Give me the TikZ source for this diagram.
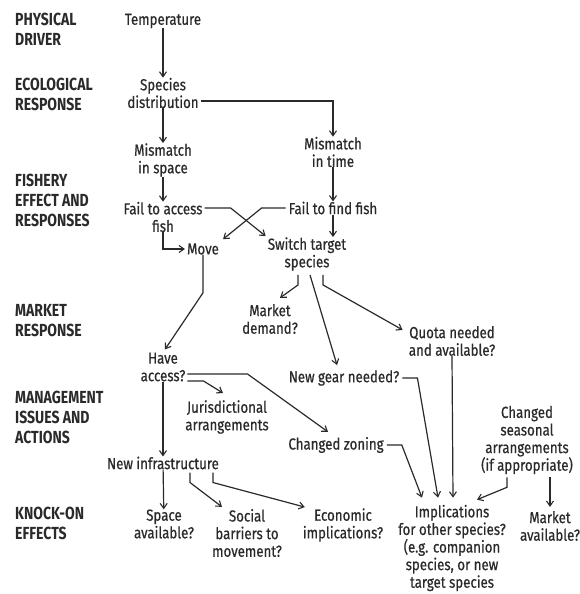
\documentclass[tikz,border=0pt]{standalone}
\usepackage{fontspec}
\setmainfont{Fira Sans}[FakeStretch=0.83,FakeBold=0.6]
\newfontfamily\headfont{Fira Sans}[FakeStretch=0.8]
\usetikzlibrary{arrows.meta,calc}
\definecolor{ink}{HTML}{2A2A2A}
\tikzset{
  box/.style={inner sep=0pt, align=center, text=ink,
    font=\fontsize{16}{17.6}\selectfont},
  stage/.style={inner sep=0pt, align=left, anchor=west, text=ink,
    font=\headfont\bfseries\fontsize{17.5}{20}\selectfont},
  link/.style={draw=ink, line width=1.2pt,
    -{Straight Barb[length=5pt,width=7pt,line width=1.1pt]}},
}
\begin{document}
\begin{tikzpicture}[x=1pt,y=-1pt]
\useasboundingbox (0,0) rectangle (580,594);

% stage labels on the left
\node[stage] (lphys) at (15,29)  {PHYSICAL\\DRIVER};
\node[stage] (leco)  at (15,94)  {ECOLOGICAL\\RESPONSE};
\node[stage] (lfish) at (15,200) {FISHERY\\EFFECT AND\\RESPONSES};
\node[stage] (lmkt)  at (15,321) {MARKET\\RESPONSE};
\node[stage] (lmgmt) at (15,417) {MANAGEMENT\\ISSUES AND\\ACTIONS};
\node[stage] (lknock) at (15,523) {KNOCK-ON\\EFFECTS};

% flow nodes
\node[box] (temp)     at (163,21)  {Temperature};
\node[box] (species)  at (163,93)  {Species\\distribution};
\node[box] (mspace)   at (163,160) {Mismatch\\in space};
\node[box] (mtime)    at (333,152) {Mismatch\\in time};
\node[box] (faccess)  at (163,217) {Fail to access\\fish};
\node[box] (ffind)    at (333,208) {Fail to find fish};
\node[box] (move)     at (203,249) {Move};
\node[box] (switch)   at (307,254) {Switch target\\species};
\node[box] (mdemand)  at (270,319) {Market\\demand?};
\node[box] (quota)    at (452,341) {Quota needed\\and available?};
\node[box] (newgear)  at (344,378) {New gear needed?};
\node[box] (access)   at (163,367) {Have\\access?};
\node[box] (juris)    at (227,417) {Jurisdictional\\arrangements};
\node[box] (zoning)   at (336,445) {Changed zoning};
\node[box] (seasonal) at (527,440) {Changed\\seasonal\\arrangements\\(if appropriate)};
\node[box] (infra)    at (163,463) {New infrastructure};
\node[box] (spaceav)  at (164,524) {Space\\available?};
\node[box] (social)   at (247,533) {Social\\barriers to\\movement?};
\node[box] (econ)     at (343,525) {Economic\\implications?};
\node[box] (impl)     at (452,548) {Implications\\for other species?\\(e.g. companion\\species, or new\\target species};
\node[box] (marketav) at (550,526) {Market\\available?};

% connectors
\draw[link] (temp) -- (species);
\draw[link] (species) -- (mspace);
\draw[link] ($(species.east)+(2,8)$) -| (mtime.north);
\draw[link] (mspace) -- (faccess);
\draw[link] (mtime) -- (ffind);
\draw[link] (faccess.south) |- ($(move.west)+(-2,0)$);
\draw[link] ($(faccess.east)+(2,-9)$) -- ++(26,0) -- ($(switch.north west)+(-2,-1)$);
\draw[link] ($(ffind.west)+(-3,0)$) -- ++(-24,0) -- ($(move.north east)+(4,-4)$);
\draw[link] (ffind.south) -- (ffind.south |- switch.north);
\draw[link] (move.south) -- ++(0,38) -- ($(access.north)+(2,-3)$);
\draw[link] ($(switch.south)+(-9,4)$) -- ++(0,10) -- ($(mdemand.north)+(10,-6)$);
\draw[link] ($(switch.south)+(3,4)$) -- ($(newgear.north)+(-7,-5)$);
\draw[link] ($(switch.south)+(16,4)$) -- ++(0,10) -- ($(quota.north west)+(-6,4)$);
\draw[link] ($(access.east)+(2,7)$) -- ++(60,0) -- ($(zoning.north)+(-8,-5)$);
\draw[link] ($(access.east)+(2,14)$) -- ++(16,0) -- ($(juris.north)+(-4,-7)$);
\draw[link] (access) -- (infra);
\draw[link] (infra) -- (spaceav);
\draw[link] ($(infra.south)+(27,3)$) -- ++(0,10) -- ($(social.north)+(-25,-2)$);
\draw[link] ($(infra.south)+(50,3)$) -- ++(0,10) -- ($(econ.north west)+(2,-1)$);
\draw[link] ($(zoning.east)+(3,0)$) -- ++(15,0) -- ($(impl.north)+(-30,-7)$);
\draw[link] ($(newgear.east)+(3,0)$) -- ++(15,0) -- ($(impl.north)+(-14,-7)$);
\draw[link] (quota.south) -- ($(impl.north)+(1,-7)$);
\draw[link] ($(seasonal.south)+(-20,3)$) -- ++(0,10) -- ($(impl.north)+(25,-5)$);
\draw[link] ($(seasonal.south)+(23,3)$) -- ($(marketav.north)+(0,-4)$);
\end{tikzpicture}
\end{document}
